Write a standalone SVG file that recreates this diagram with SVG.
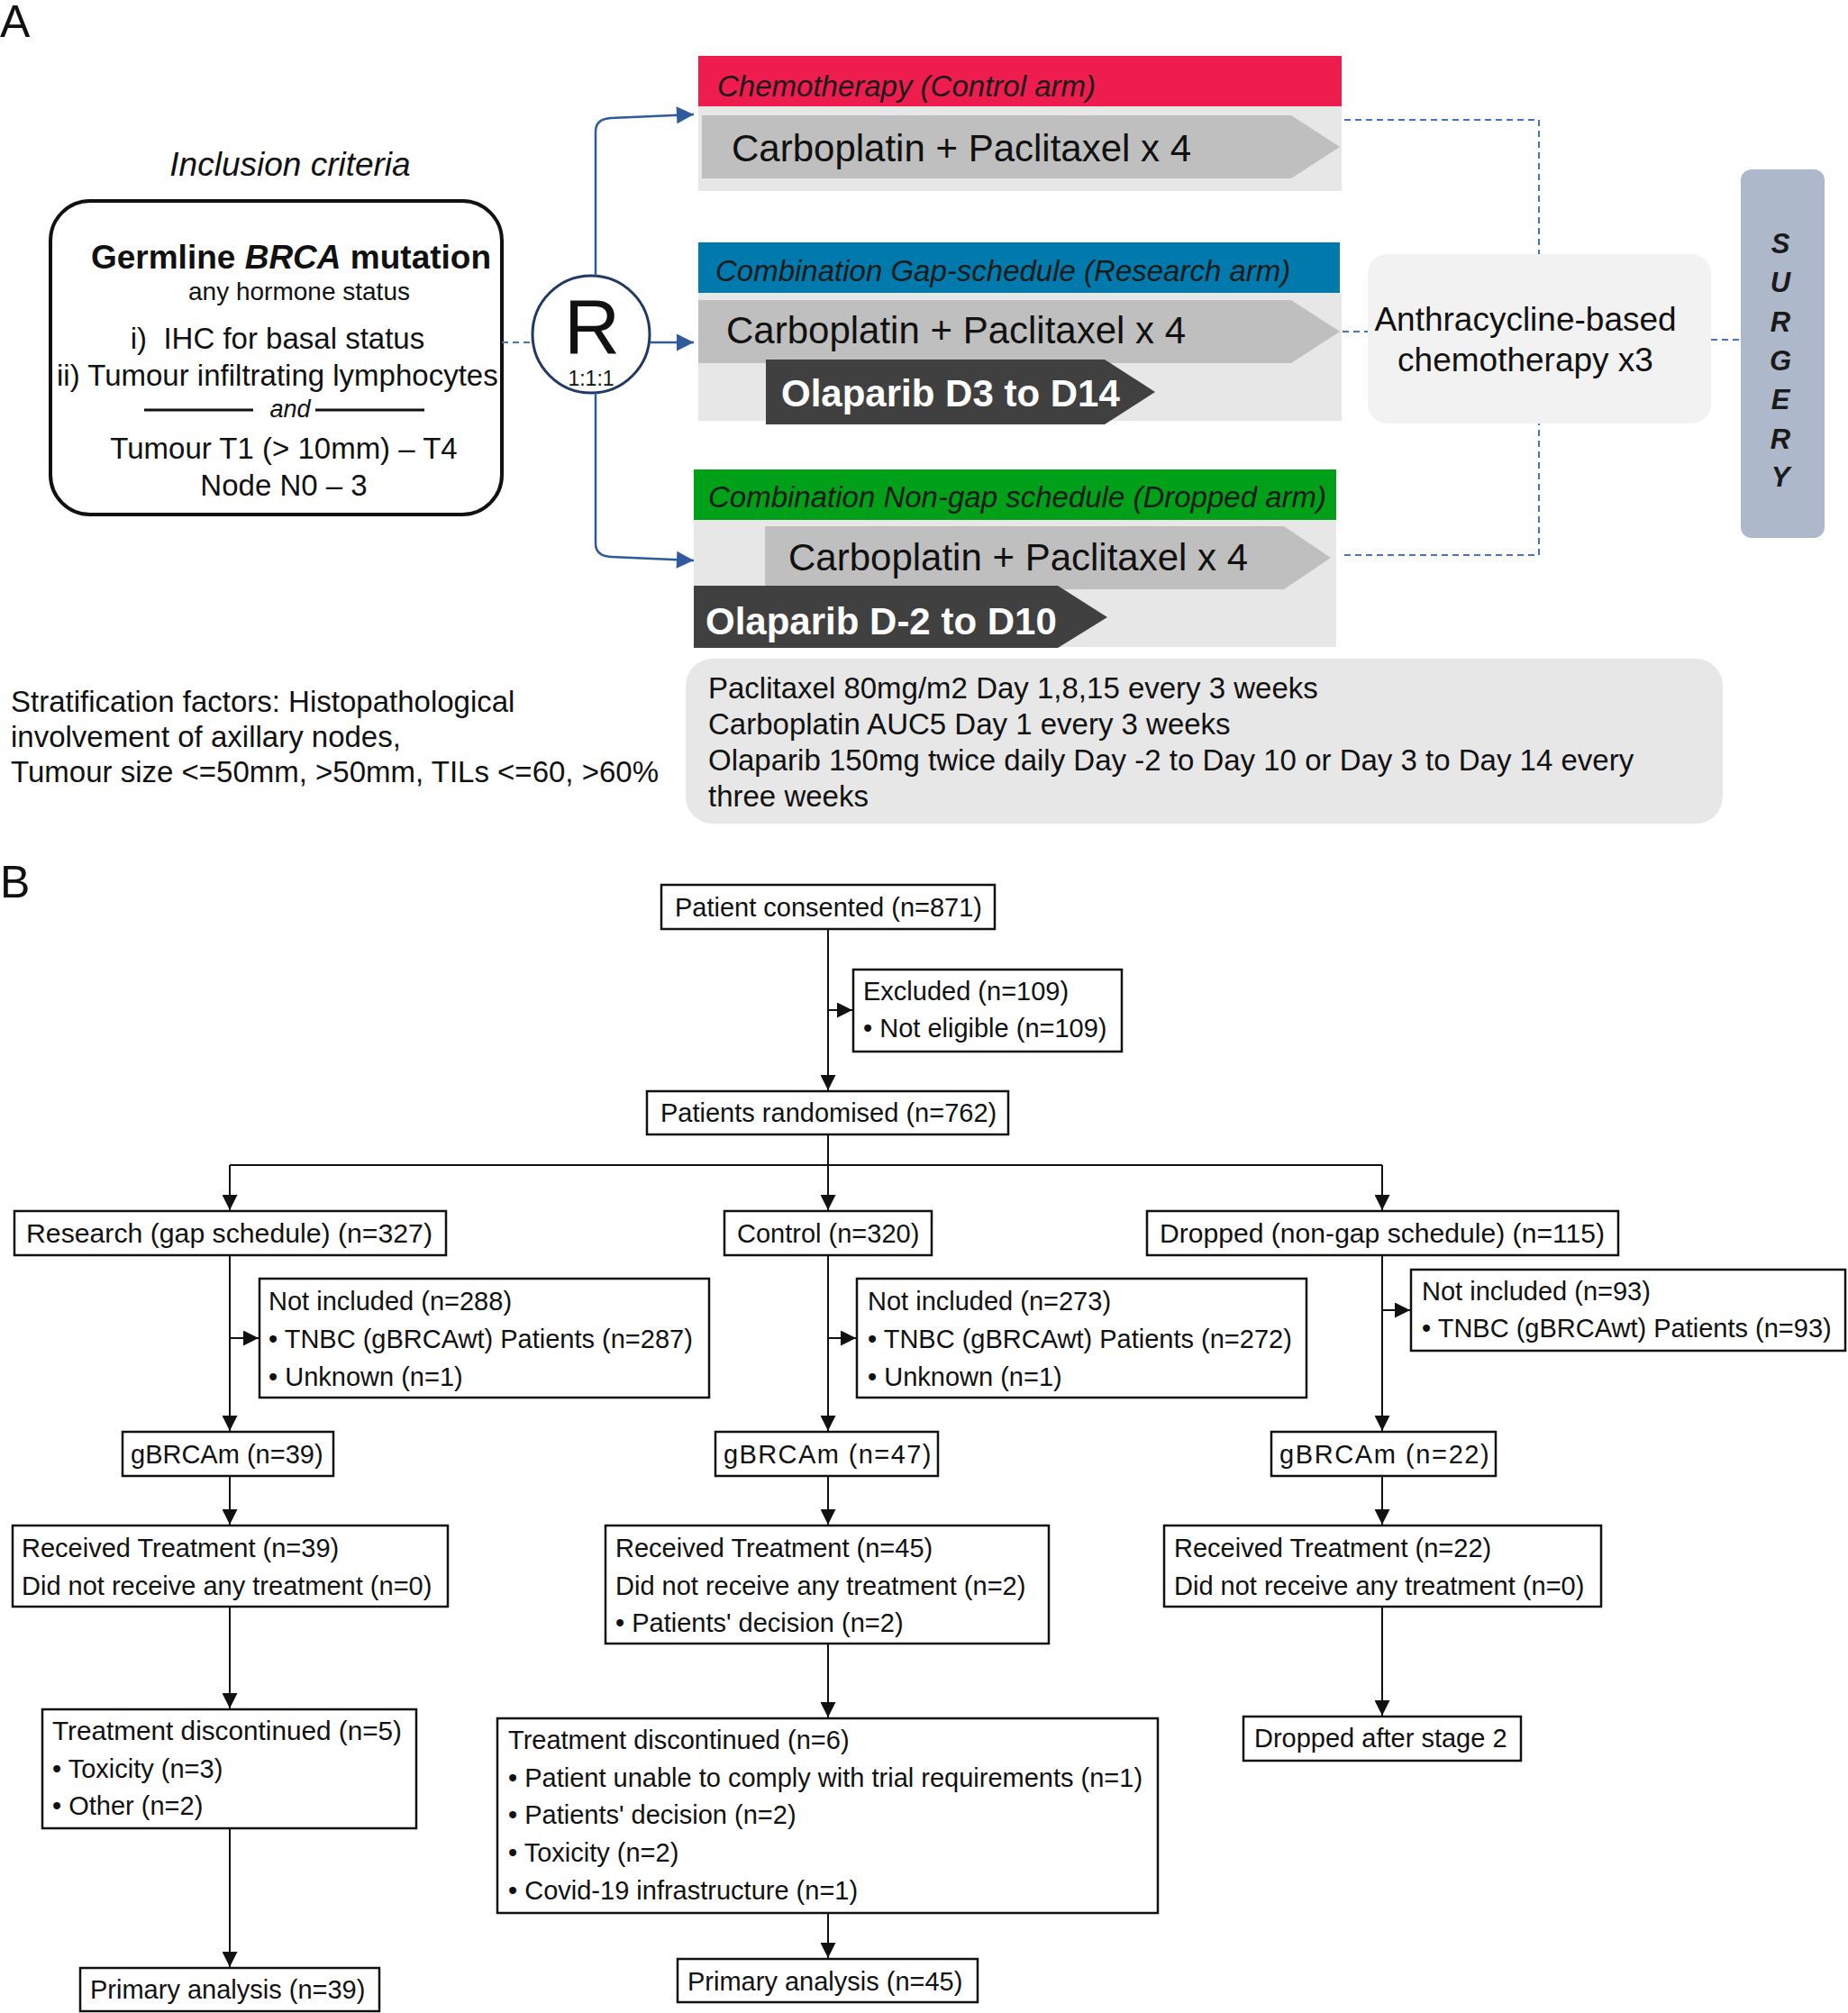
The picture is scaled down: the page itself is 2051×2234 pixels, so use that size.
<svg xmlns="http://www.w3.org/2000/svg" width="2051" height="2234" viewBox="0 0 2051 2234">
<defs>
<style>
text{font-family:"Liberation Sans",Arial,sans-serif;fill:#111}
.t29{font-size:29px}
.t33{font-size:33px}
.hdr{font-size:33px;font-style:italic;fill:#1a1a1a}
.cp{font-size:42px}
.ola{font-size:42px;font-weight:bold;fill:#fff}
.box{fill:#fff;stroke:#111;stroke-width:2.5}
.ln{fill:none;stroke:#111;stroke-width:2}
.bl{fill:none;stroke:#2F5A9E;stroke-width:2.5}
.dash{fill:none;stroke:#4472C4;stroke-width:2;stroke-dasharray:7 5}
.bg{fill:#E7E7E7}
.chev{fill:#BFBFBF}
.dchev{fill:#404040}
.sg{font-size:31px;font-weight:bold;font-style:italic;text-anchor:middle;fill:#1a1a1a}
</style>
<marker id="ah" viewBox="0 0 10 10" refX="10" refY="5" markerWidth="20" markerHeight="17" markerUnits="userSpaceOnUse" orient="auto"><path d="M0,0 L10,5 L0,10 z" fill="#111"/></marker>
<marker id="bh" viewBox="0 0 10 10" refX="10" refY="5" markerWidth="20" markerHeight="19" markerUnits="userSpaceOnUse" orient="auto"><path d="M0,0 L10,5 L0,10 z" fill="#2F5A9E"/></marker>
</defs>
<rect width="2051" height="2234" fill="#fff"/>

<g id="panelA-label"><text x="0" y="41" style="font-size:50px">A</text></g>

<g id="inclusion">
<text x="322" y="195" text-anchor="middle" style="font-size:37px;font-style:italic">Inclusion criteria</text>
<rect x="56" y="223" width="501" height="348" rx="44" fill="#fff" stroke="#111" stroke-width="4"/>
<text x="323" y="298" text-anchor="middle" style="font-size:37px;font-weight:bold">Germline <tspan font-style="italic">BRCA</tspan> mutation</text>
<text x="332" y="333" text-anchor="middle" style="font-size:28px">any hormone status</text>
<text x="308" y="387" text-anchor="middle" class="t33">i)&#160; IHC for basal status</text>
<text x="63" y="428" class="t33">ii) Tumour infiltrating lymphocytes</text>
<line x1="160" y1="455" x2="281" y2="455" stroke="#111" stroke-width="3"/>
<line x1="350" y1="455" x2="471" y2="455" stroke="#111" stroke-width="3"/>
<text x="322" y="463" text-anchor="middle" style="font-size:27px;font-style:italic">and</text>
<text x="315" y="509" text-anchor="middle" class="t33">Tumour T1 (&gt; 10mm) – T4</text>
<text x="315" y="550" text-anchor="middle" class="t33">Node N0 – 3</text>
</g>

<g id="randomisation">
<circle cx="656" cy="371" r="65" fill="#fff" stroke="#1F3864" stroke-width="3"/>
<text x="657" y="392" text-anchor="middle" style="font-size:86px">R</text>
<text x="656" y="428" text-anchor="middle" style="font-size:23px">1:1:1</text>
</g>

<g id="control-arm">
<rect x="775" y="62" width="714" height="56" fill="#EE1D4E"/>
<rect class="bg" x="775" y="118" width="714" height="94"/>
<text class="hdr" x="796" y="107">Chemotherapy (Control arm)</text>
<polygon class="chev" points="779,128 1433,128 1487,163 1433,198 779,198"/>
<text class="cp" x="812" y="179">Carboplatin + Paclitaxel x 4</text>
</g>

<g id="research-arm">
<rect x="775" y="269" width="712" height="56" fill="#0079AC"/>
<rect class="bg" x="775" y="325" width="714" height="142"/>
<text class="hdr" x="794" y="312">Combination Gap-schedule (Research arm)</text>
<polygon class="chev" points="775,333 1433,333 1487,368 1433,403 775,403"/>
<text class="cp" x="806" y="381">Carboplatin + Paclitaxel x 4</text>
<polygon class="dchev" points="850,399 1226,399 1282,435 1226,471 850,471"/>
<text class="ola" x="867" y="451">Olaparib D3 to D14</text>
</g>

<g id="dropped-arm">
<rect x="770" y="521" width="713" height="56" fill="#00A018"/>
<rect class="bg" x="770" y="577" width="713" height="141"/>
<text class="hdr" x="786" y="563">Combination Non-gap schedule (Dropped arm)</text>
<polygon class="chev" points="849,584 1425,584 1477,619 1425,654 849,654"/>
<text class="cp" x="875" y="633">Carboplatin + Paclitaxel x 4</text>
<polygon class="dchev" points="770,650 1174,650 1229,685 1174,719 770,719"/>
<text class="ola" x="783" y="704">Olaparib D-2 to D10</text>
</g>

<g id="anthracycline">
<rect x="1518" y="282" width="381" height="188" rx="22" fill="#F2F2F2"/>
<text x="1693" y="367" text-anchor="middle" style="font-size:37px">Anthracycline-based</text>
<text x="1693" y="412" text-anchor="middle" style="font-size:37px">chemotherapy x3</text>
</g>

<g id="surgery">
<rect x="1932" y="188" width="93" height="409" rx="12" fill="#ADB9CA"/>
<text class="sg" x="1976" y="281">S</text>
<text class="sg" x="1976" y="324">U</text>
<text class="sg" x="1976" y="368">R</text>
<text class="sg" x="1976" y="411">G</text>
<text class="sg" x="1976" y="454">E</text>
<text class="sg" x="1976" y="498">R</text>
<text class="sg" x="1976" y="540">Y</text>
</g>

<g id="stratification">
<text class="t33" x="12" y="790">Stratification factors: Histopathological</text>
<text class="t33" x="12" y="829">involvement of axillary nodes,</text>
<text class="t33" x="12" y="868">Tumour size &lt;=50mm, &gt;50mm, TILs &lt;=60, &gt;60%</text>
</g>

<g id="dosing">
<rect x="761" y="731" width="1151" height="183" rx="30" fill="#E7E7E7"/>
<text class="t33" x="786" y="775">Paclitaxel 80mg/m2 Day 1,8,15 every 3 weeks</text>
<text class="t33" x="786" y="815">Carboplatin AUC5 Day 1 every 3 weeks</text>
<text class="t33" x="786" y="855">Olaparib 150mg twice daily Day -2 to Day 10 or Day 3 to Day 14 every</text>
<text class="t33" x="786" y="895">three weeks</text>
</g>

<g id="connectors-A">
<path class="dash" d="M557,380 H590"/>
<path class="bl" d="M661,306 V146 Q661,132 678,131 L770,127" marker-end="url(#bh)"/>
<path class="bl" d="M722,380 H770" marker-end="url(#bh)"/>
<path class="bl" d="M661,436 V603 Q661,617 678,618 L770,622" marker-end="url(#bh)"/>
<path class="dash" d="M1492,133 H1708 V282"/>
<path class="dash" d="M1490,368 H1518"/>
<path class="dash" d="M1492,616 H1708 V470"/>
<path class="dash" d="M1899,377 H1932"/>
</g>

<g id="panelB-label"><text x="0" y="996" style="font-size:50px">B</text></g>

<g id="consented"><rect class="box" x="734" y="982" width="370" height="49"/><text class="t29" x="749" y="1017">Patient consented (n=871)</text></g>
<g id="excluded"><rect class="box" x="947" y="1076" width="298" height="91"/><text class="t29" x="958" y="1110">Excluded (n=109)</text><text class="t29" x="958" y="1151">• Not eligible (n=109)</text></g>
<g id="randomised"><rect class="box" x="718" y="1211" width="401" height="48"/><text class="t29" x="733" y="1245">Patients randomised (n=762)</text></g>

<g id="research"><rect class="box" x="16" y="1344" width="479" height="49"/><text class="t29" x="29" y="1379" textLength="451" lengthAdjust="spacingAndGlyphs">Research (gap schedule) (n=327)</text></g>
<g id="control"><rect class="box" x="804" y="1344" width="230" height="49"/><text class="t29" x="818" y="1379">Control (n=320)</text></g>
<g id="dropped"><rect class="box" x="1273" y="1344" width="523" height="49"/><text class="t29" x="1287" y="1379" textLength="494" lengthAdjust="spacingAndGlyphs">Dropped (non-gap schedule) (n=115)</text></g>

<g id="notincl-research"><rect class="box" x="288" y="1419" width="499" height="132"/><text class="t29" x="298" y="1454">Not included (n=288)</text><text class="t29" x="298" y="1496">• TNBC (gBRCAwt) Patients (n=287)</text><text class="t29" x="298" y="1538">• Unknown (n=1)</text></g>
<g id="notincl-control"><rect class="box" x="951" y="1419" width="499" height="132"/><text class="t29" x="963" y="1454">Not included (n=273)</text><text class="t29" x="963" y="1496">• TNBC (gBRCAwt) Patients (n=272)</text><text class="t29" x="963" y="1538">• Unknown (n=1)</text></g>
<g id="notincl-dropped"><rect class="box" x="1566" y="1409" width="482" height="90"/><text class="t29" x="1578" y="1443">Not included (n=93)</text><text class="t29" x="1578" y="1484">• TNBC (gBRCAwt) Patients (n=93)</text></g>

<g id="gbrca-research"><rect class="box" x="136" y="1589" width="234" height="49"/><text class="t29" x="145" y="1624">gBRCAm (n=39)</text></g>
<g id="gbrca-control"><rect class="box" x="794" y="1589" width="247" height="49"/><text class="t29" x="803" y="1624" letter-spacing="1.4">gBRCAm (n=47)</text></g>
<g id="gbrca-dropped"><rect class="box" x="1411" y="1589" width="249" height="49"/><text class="t29" x="1420" y="1624" letter-spacing="1.6">gBRCAm (n=22)</text></g>

<g id="received-research"><rect class="box" x="14" y="1693" width="483" height="90"/><text class="t29" x="24" y="1728">Received Treatment (n=39)</text><text class="t29" x="24" y="1770">Did not receive any treatment (n=0)</text></g>
<g id="received-control"><rect class="box" x="672" y="1693" width="492" height="131"/><text class="t29" x="683" y="1728">Received Treatment (n=45)</text><text class="t29" x="683" y="1770">Did not receive any treatment (n=2)</text><text class="t29" x="683" y="1811">• Patients' decision (n=2)</text></g>
<g id="received-dropped"><rect class="box" x="1292" y="1693" width="485" height="90"/><text class="t29" x="1303" y="1728">Received Treatment (n=22)</text><text class="t29" x="1303" y="1770">Did not receive any treatment (n=0)</text></g>

<g id="disc-research"><rect class="box" x="47" y="1897" width="415" height="132"/><text class="t29" x="58" y="1931" textLength="388" lengthAdjust="spacingAndGlyphs">Treatment discontinued (n=5)</text><text class="t29" x="58" y="1973">• Toxicity (n=3)</text><text class="t29" x="58" y="2014">• Other (n=2)</text></g>
<g id="disc-control"><rect class="box" x="552" y="1907" width="733" height="216"/><text class="t29" x="564" y="1941">Treatment discontinued (n=6)</text><text class="t29" x="564" y="1983">• Patient unable to comply with trial requirements (n=1)</text><text class="t29" x="564" y="2024">• Patients' decision (n=2)</text><text class="t29" x="564" y="2066">• Toxicity (n=2)</text><text class="t29" x="564" y="2108">• Covid-19 infrastructure (n=1)</text></g>
<g id="dropped-stage2"><rect class="box" x="1380" y="1905" width="308" height="49"/><text class="t29" x="1392" y="1939">Dropped after stage 2</text></g>

<g id="primary-research"><rect class="box" x="89" y="2184" width="332" height="48"/><text class="t29" x="100" y="2218">Primary analysis (n=39)</text></g>
<g id="primary-control"><rect class="box" x="752" y="2174" width="333" height="48"/><text class="t29" x="763" y="2209">Primary analysis (n=45)</text></g>

<g id="connectors-B">
<path class="ln" d="M919,1031 V1210" marker-end="url(#ah)"/>
<path class="ln" d="M919,1121 H946" marker-end="url(#ah)"/>
<path class="ln" d="M919,1259 V1343" marker-end="url(#ah)"/>
<path class="ln" d="M255,1293 H1534"/>
<path class="ln" d="M255,1293 V1343" marker-end="url(#ah)"/>
<path class="ln" d="M1534,1293 V1343" marker-end="url(#ah)"/>
<path class="ln" d="M255,1393 V1588" marker-end="url(#ah)"/>
<path class="ln" d="M255,1485 H287" marker-end="url(#ah)"/>
<path class="ln" d="M919,1393 V1588" marker-end="url(#ah)"/>
<path class="ln" d="M919,1485 H950" marker-end="url(#ah)"/>
<path class="ln" d="M1534,1393 V1588" marker-end="url(#ah)"/>
<path class="ln" d="M1534,1454 H1565" marker-end="url(#ah)"/>
<path class="ln" d="M255,1638 V1692" marker-end="url(#ah)"/>
<path class="ln" d="M919,1638 V1692" marker-end="url(#ah)"/>
<path class="ln" d="M1534,1638 V1692" marker-end="url(#ah)"/>
<path class="ln" d="M255,1783 V1896" marker-end="url(#ah)"/>
<path class="ln" d="M919,1824 V1906" marker-end="url(#ah)"/>
<path class="ln" d="M1534,1783 V1904" marker-end="url(#ah)"/>
<path class="ln" d="M255,2029 V2183" marker-end="url(#ah)"/>
<path class="ln" d="M919,2123 V2173" marker-end="url(#ah)"/>
</g>
</svg>
